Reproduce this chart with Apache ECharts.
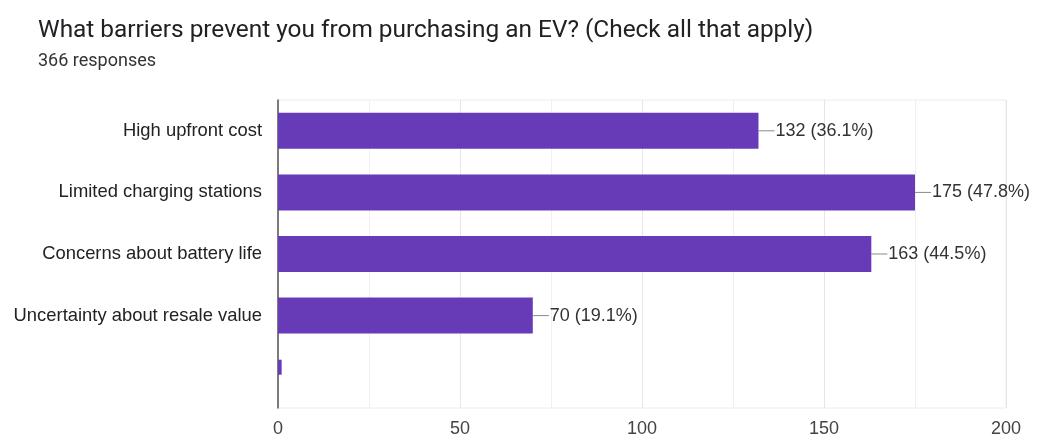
<!DOCTYPE html>
<html>
<head>
<meta charset="utf-8">
<script src="https://cdn.jsdelivr.net/npm/echarts@6/dist/echarts.min.js"></script>
<style>
  html, body { margin: 0; padding: 0; background: #fff; }
  #chart { width: 1037px; height: 438px; }
</style>
</head>
<body>
<div id="chart"></div>
<script>
// Survey answers, top to bottom
const categories = [
  'High upfront cost',
  'Limited charging stations',
  'Concerns about battery life',
  'Uncertainty about resale value',
  ''
];
const counts = [132, 175, 163, 70, 1];
const totalResponses = 366;
const xTicks = [0, 50, 100, 150, 200];

const purple = '#673ab7';
const sansFont = "'Liberation Sans', Arial, sans-serif";
const titleFont = "Roboto, Arial, sans-serif";
const lastIdx = categories.length - 1;

// Labelled answers go on the main axis; the thin unlabelled bar sits on a hidden twin axis
const mainData = counts.map((v, i) => (i === lastIdx ? '-' : v));
const thinData = counts.map((v, i) => (i === lastIdx ? v : '-'));
const emptyData = counts.map(() => '-');

const chart = echarts.init(document.getElementById('chart'), null, { renderer: 'canvas' });

chart.setOption({
  animation: false,
  backgroundColor: '#fff',
  title: [
    {
      text: 'What barriers prevent you from purchasing an EV? (Check all that apply)',
      left: 33, top: 14,
      textStyle: { fontFamily: titleFont, fontSize: 24.4, fontWeight: 'normal', color: '#202124' }
    },
    {
      text: totalResponses + ' responses',
      left: 33, top: 47,
      textStyle: { fontFamily: titleFont, fontSize: 18, fontWeight: 'normal', color: '#333' }
    }
  ],
  grid: {
    left: 278, right: 31, top: 100, bottom: 30,
    show: true, borderColor: '#ececec', borderWidth: 1
  },
  xAxis: {
    type: 'value',
    min: xTicks[0], max: xTicks[xTicks.length - 1], interval: 50,
    axisLine: { show: false },
    axisTick: { show: false },
    axisLabel: {
      color: '#444', fontSize: 18, margin: 12,
      fontFamily: sansFont,
      customValues: xTicks
    },
    splitLine: { show: true, lineStyle: { color: '#e6e6e6', width: 1 } },
    minorTick: { show: false, splitNumber: 2 },
    minorSplitLine: { show: true, lineStyle: { color: '#f0f0f0', width: 1 } }
  },
  yAxis: [
    {
      type: 'category',
      data: categories,
      inverse: true,
      axisLine: { show: true, lineStyle: { color: '#555', width: 1.5 } },
      axisTick: { show: false },
      axisLabel: {
        color: '#222', fontSize: 18.4, margin: 16,
        fontFamily: sansFont
      },
      splitLine: { show: false }
    },
    {
      type: 'category',
      data: categories,
      inverse: true,
      position: 'left',
      show: false
    }
  ],
  series: [
    {
      type: 'bar',
      yAxisIndex: 0,
      data: mainData,
      barWidth: 36,
      itemStyle: { color: purple },
      label: {
        show: true,
        position: 'right',
        distance: 0,
        formatter: (p) => '{ln|}{t|' + p.value + ' (' + (p.value / totalResponses * 100).toFixed(1) + '%)}',
        rich: {
          ln: { width: 16, height: 1, backgroundColor: '#888', verticalAlign: 'middle' },
          t: { color: '#333', fontSize: 18, fontFamily: sansFont, padding: [0, 0, 0, 1] }
        }
      }
    },
    {
      // thin bar, sitting in the upper part of its row
      type: 'bar',
      yAxisIndex: 1,
      data: thinData,
      barWidth: 15,
      barGap: 0,
      itemStyle: { color: purple },
      label: { show: false }
    },
    {
      // empty spacer slot that pushes the thin bar upward
      type: 'bar',
      yAxisIndex: 1,
      data: emptyData,
      barWidth: 20,
      barGap: 0,
      silent: true,
      itemStyle: { color: 'transparent' }
    }
  ]
});
</script>
</body>
</html>
